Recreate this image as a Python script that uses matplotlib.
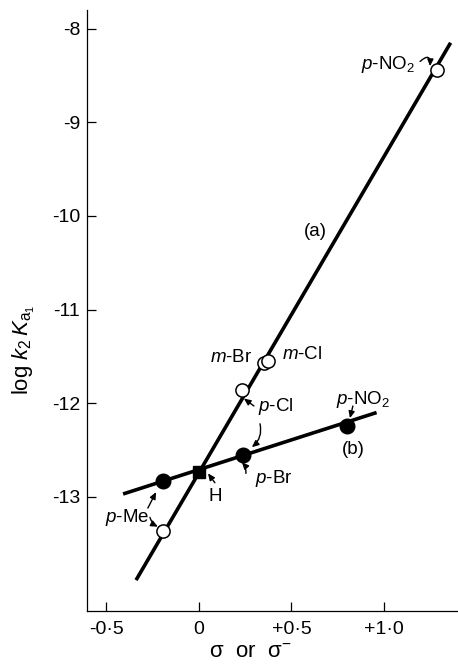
import matplotlib
matplotlib.use("Agg")
import matplotlib.pyplot as plt

plt.rcParams['font.family'] = ['Liberation Sans', 'DejaVu Sans']
plt.rcParams['mathtext.fontset'] = 'custom'
plt.rcParams['mathtext.rm'] = 'Liberation Sans'
plt.rcParams['mathtext.it'] = 'Liberation Sans:italic'
plt.rcParams['mathtext.bf'] = 'Liberation Sans:bold'

# ---- data ----
# series (a): open circles (sigma / sigma-)
a_names = ["p-Me", "p-Cl", "m-Br", "m-Cl", "p-NO2"]
a_x = [-0.195, 0.23, 0.35, 0.375, 1.285]
a_y = [-13.37, -11.86, -11.57, -11.55, -8.44]
# series (b): filled circles
b_names = ["p-Me", "p-Br", "p-NO2"]
b_x = [-0.193, 0.24, 0.80]
b_y = [-12.83, -12.55, -12.24]
# parent compound H (common point)
h_x = [0.0]
h_y = [-12.74]
# fitted lines (end points)
line_a_x = [-0.34, 1.36]
line_a_y = [-13.89, -8.15]
line_b_x = [-0.41, 0.96]
line_b_y = [-12.97, -12.10]

x_ticks = [-0.5, 0.0, 0.5, 1.0]
x_ticklabels = ["-0·5", "0", "+0·5", "+1·0"]
y_ticks = [-8, -9, -10, -11, -12, -13]
y_ticklabels = ["-8", "-9", "-10", "-11", "-12", "-13"]

fig = plt.figure(figsize=(4.58, 6.66), dpi=100)
ax = fig.add_axes([87/458, 55/666, 371/458, 601/666])

ax.plot(line_a_x, line_a_y, color='black', lw=2.6, solid_capstyle='butt', zorder=2)
ax.plot(line_b_x, line_b_y, color='black', lw=2.6, solid_capstyle='butt', zorder=2)
ax.plot(a_x, a_y, 'o', ms=9.5, mfc='white', mec='black', mew=1.1, zorder=3)
ax.plot(b_x, b_y, 'o', ms=10.5, mfc='black', mec='black', zorder=3)
ax.plot(h_x, h_y, 's', ms=8, mfc='black', mec='black', zorder=4)

ax.set_xlim(-0.605, 1.40)
ax.set_ylim(-14.22, -7.80)
ax.set_xticks(x_ticks)
ax.set_xticklabels(x_ticklabels)
ax.set_yticks(y_ticks)
ax.set_yticklabels(y_ticklabels)
ax.tick_params(direction='in', length=6.5, width=0.9, labelsize=14)
ax.tick_params(axis='x', pad=7)
ax.tick_params(axis='y', pad=5)
for s in ['top', 'right']:
    ax.spines[s].set_visible(False)
for s in ['left', 'bottom']:
    ax.spines[s].set_linewidth(0.9)

ax.set_xlabel(r"σ  or  σ$^{-}$", fontsize=16)
ax.xaxis.set_label_coords(0.44, -0.051)
ax.set_ylabel(r"log $k_2\,K_{\mathrm{a}_1}$", fontsize=16)
ax.yaxis.set_label_coords(-0.135, 0.434)

fs = 13.5
ax.text(0.627, -10.17, "(a)", fontsize=fs, ha='center', va='center')
ax.text(0.832, -12.50, "(b)", fontsize=fs, ha='center', va='center')
ax.text(1.022, -8.385, r"$p$-NO$_2$", fontsize=fs, ha='center', va='center')
ax.text(0.173, -11.515, r"$m$-Br", fontsize=fs, ha='center', va='center')
ax.text(0.557, -11.483, r"$m$-Cl", fontsize=fs, ha='center', va='center')
ax.text(0.416, -12.04, r"$p$-Cl", fontsize=fs, ha='center', va='center')
ax.text(0.886, -11.96, r"$p$-NO$_2$", fontsize=fs, ha='center', va='center')
ax.text(0.405, -12.80, r"$p$-Br", fontsize=fs, ha='center', va='center')
ax.text(0.086, -13.00, "H", fontsize=fs, ha='center', va='center')
ax.text(-0.389, -13.22, r"$p$-Me", fontsize=fs, ha='center', va='center')

arrows = [
    ((1.195, -8.35), (1.249, -8.40), -1.2),
    ((0.297, -12.03), (0.243, -11.95), 0.0),
    ((0.330, -12.22), (0.286, -12.47), -0.3),
    ((0.254, -12.75), (0.232, -12.63), 0.2),
    ((0.832, -12.03), (0.816, -12.16), 0.0),
    ((0.086, -12.85), (0.049, -12.75), 0.0),
    ((-0.276, -13.12), (-0.232, -12.95), 0.0),
    ((-0.265, -13.22), (-0.222, -13.32), 0.2),
]
for start, end, rad in arrows:
    ax.annotate("", xy=end, xytext=start,
                arrowprops=dict(arrowstyle="-|>,head_length=0.4,head_width=0.18",
                                color='black', lw=1.0, shrinkA=0, shrinkB=0,
                                connectionstyle=f"arc3,rad={rad}"))

fig.savefig("out.png", dpi=100)
